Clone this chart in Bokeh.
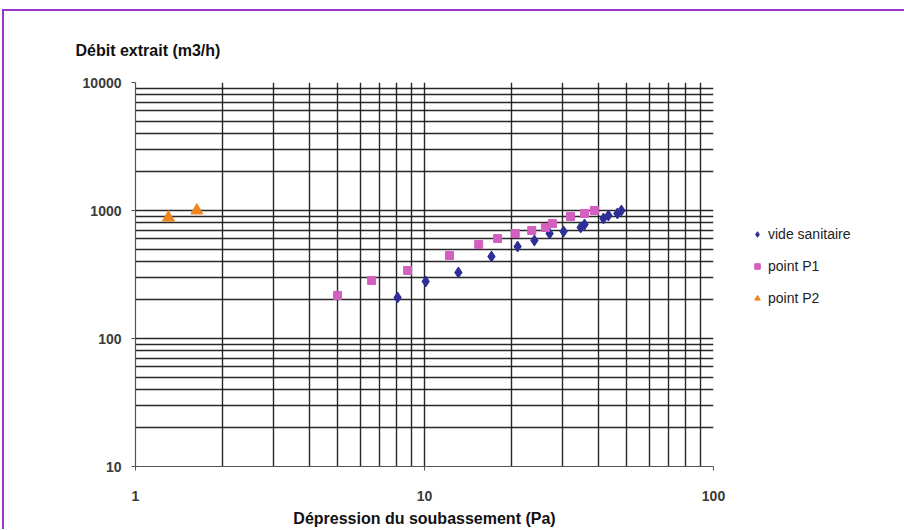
from bokeh.plotting import figure
from bokeh.models import FixedTicker, NumeralTickFormatter, Legend, LegendItem
from bokeh.embed import file_html
from bokeh.resources import INLINE

# ---- data ----
vide_x = [8.07, 10.1, 13.1, 17.05, 21.0, 24.0, 27.1, 30.3, 34.7, 35.8, 41.6, 43.3, 46.5, 48.0]
vide_y = [209, 279, 328, 437, 523, 583, 661, 685, 737, 778, 866, 914, 948, 1000]

p1_x = [5.0, 6.56, 8.74, 12.2, 15.4, 17.9, 20.6, 23.5, 26.2, 27.7, 32.0, 35.8, 38.7]
p1_y = [217, 284, 340, 445, 543, 604, 661, 698, 737, 791, 898, 948, 1000]

p2_x = [1.30, 1.63]
p2_y = [880, 1000]

x_ticks = [1, 10, 100]
y_ticks = [10, 100, 1000, 10000]
x_grid = [2, 3, 4, 5, 6, 7, 8, 9, 10, 20, 30, 40, 50, 60, 70, 80, 90, 100]
y_grid = [20, 30, 40, 50, 60, 70, 80, 90, 100, 200, 300, 400, 500, 600, 700, 800, 900,
          1000, 2000, 3000, 4000, 5000, 6000, 7000, 8000, 9000, 10000]

series_names = ["vide sanitaire", "point P1", "point P2"]
title_text = "Débit extrait (m3/h)"
xlabel_text = "Dépression du soubassement (Pa)"

FONT = "Liberation Sans"

p = figure(frame_width=578, frame_height=384, x_axis_type="log", y_axis_type="log",
           x_range=(1, 100), y_range=(10, 10000),
           output_backend="svg", toolbar_location=None,
           min_border_left=131, min_border_right=150, min_border_top=71, min_border_bottom=55)
p.styles = {"border-top": "2px solid #9a35c9", "border-left": "2px solid #9a35c9",
            "margin-top": "9px", "margin-left": "2px"}
p.background_fill_color = "white"
p.border_fill_color = "white"
p.outline_line_color = None

# title (y-axis caption at top-left)
p.title.text = title_text
p.title.align = "left"
p.title.offset = -60
p.title.standoff = 48
p.title.text_font = FONT
p.title.text_font_size = "16px"
p.title.text_font_style = "bold"
p.title.text_color = "#111111"

# grids
p.xgrid.ticker = FixedTicker(ticks=x_grid)
p.ygrid.ticker = FixedTicker(ticks=y_grid)
for g in (p.xgrid, p.ygrid):
    g.grid_line_color = "#111111"
    g.grid_line_width = 1.4
    g.grid_line_alpha = 0.9

# axes
p.xaxis.ticker = FixedTicker(ticks=x_ticks)
p.yaxis.ticker = FixedTicker(ticks=y_ticks)
for ax in (p.xaxis, p.yaxis):
    ax.formatter = NumeralTickFormatter(format="0")
    ax.axis_line_color = "#555555"
    ax.axis_line_width = 1.2
    ax.major_tick_line_color = "#555555"
    ax.major_tick_out = 4
    ax.major_tick_in = 0
    ax.minor_tick_line_color = None
    ax.major_label_text_font = FONT
    ax.major_label_text_font_size = "14px"
    ax.major_label_text_font_style = "bold"
    ax.major_label_text_color = "#3a3a3a"
p.xaxis.major_label_standoff = 20
p.yaxis.major_label_standoff = 10

p.xaxis.axis_label = xlabel_text
p.xaxis.axis_label_text_font = FONT
p.xaxis.axis_label_text_font_size = "16px"
p.xaxis.axis_label_text_font_style = "bold"
p.xaxis.axis_label_text_color = "#111111"
p.xaxis.axis_label_standoff = 6

# data
r1 = p.scatter(vide_x, vide_y, marker="diamond", size=11, color="#2e2e96")
r2 = p.scatter(p1_x, p1_y, marker="square", size=8, color="#d35fbf")
r3 = p.scatter(p2_x, p2_y, marker="triangle", size=12, color="#f0851e")

legend = Legend(items=[LegendItem(label=series_names[0], renderers=[r1]),
                       LegendItem(label=series_names[1], renderers=[r2]),
                       LegendItem(label=series_names[2], renderers=[r3])],
                location="center_left", orientation="vertical",
                glyph_width=14, glyph_height=14, label_standoff=4,
                spacing=16, padding=0, margin=37, label_height=14,
                label_text_font=FONT, label_text_font_size="14px",
                label_text_color="#222222",
                title="\u00a0", title_location="below",
                title_text_font_size="10px", title_standoff=5,
                border_line_color=None, background_fill_alpha=0)
p.add_layout(legend, "right")

open("out.html", "w").write(file_html(p, INLINE))
